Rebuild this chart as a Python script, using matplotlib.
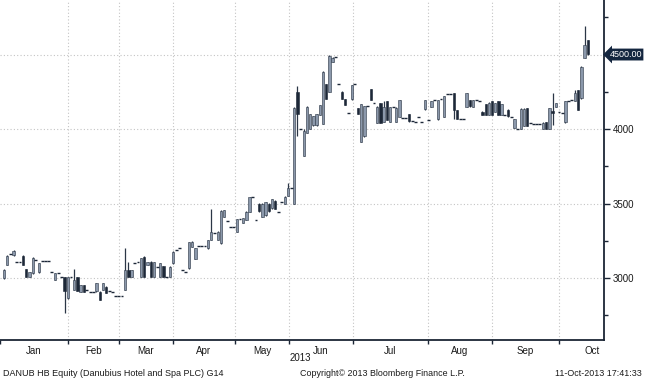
import numpy as np
import matplotlib
matplotlib.use("Agg")
import matplotlib.pyplot as plt
from matplotlib.ticker import FixedLocator, NullFormatter

# daily bars, DANUB HB, Jan - 11 Oct 2013
opens = [
    3000, 3090, 3160, 3155, 3110, 3110, 3150, 3060, 3010, 3035, 3121, 3040, 3114, 3114, 3114, 3038,
    2990, 3033, 3005, 3009, 2865, 3009, 2920, 3005, 2908, 2953, 2919, 2908, 2908, 2910, 2908, 2920,
    2942, 2915, 2908, 2879, 2879, 2879, 2920, 3054, 3009, 3103, 3110, 3009, 3143, 3087, 3110, 3010,
    3076, 3009, 3081, 3009, 3009, 3098, 3188, 3199, 3054, 3042, 3065, 3210, 3127, 3215, 3215, 3218,
    3199, 3255, 3304, 3255, 3233, 3412, 3385, 3344, 3344, 3311, 3396, 3369, 3389, 3445, 3542, 3389,
    3500, 3412, 3420, 3500, 3468, 3520, 3445, 3510, 3500, 3552, 3602, 3500, 4250, 4000, 3820, 3972,
    4000, 4025, 4025, 4094, 4034, 4302, 4250, 4450, 4485, 4300, 4250, 4199, 4105, 4199, 4300, 4139,
    3915, 3950, 4154, 4266, 4175, 4040, 4175, 4050, 4185, 4050, 4145, 4050, 4083, 4076, 4076, 4100,
    4055, 4050, 4080, 4050, 4132, 4060, 4150, 4195, 4065, 4200, 4083, 4232, 4236, 4243, 4128, 4065,
    4068, 4150, 4195, 4150, 4195, 4188, 4116, 4167, 4094, 4185, 4116, 4185, 4094, 4094, 4130, 4083,
    4007, 4003, 4003, 4020, 4139, 4040, 4036, 4032, 4032, 4000, 4045, 4000, 4120, 4150, 4111, 4105,
    4045, 4188, 4192, 4188, 4262, 4206, 4479, 4597,
]
highs = [
    3060, 3155, 3160, 3185, 3110, 3110, 3155, 3062, 3042, 3140, 3121, 3100, 3114, 3114, 3114, 3038,
    3035, 3033, 3005, 3010, 3010, 3009, 3058, 3008, 2955, 2955, 2919, 2908, 2908, 2969, 2910, 2965,
    2944, 2915, 2908, 2879, 2879, 2879, 3200, 3110, 3055, 3103, 3110, 3135, 3145, 3110, 3112, 3110,
    3076, 3100, 3083, 3009, 3078, 3180, 3188, 3199, 3054, 3042, 3245, 3246, 3200, 3215, 3215, 3218,
    3257, 3463, 3304, 3313, 3455, 3458, 3385, 3344, 3344, 3398, 3396, 3404, 3447, 3545, 3542, 3389,
    3502, 3502, 3510, 3502, 3530, 3522, 3445, 3510, 3548, 3635, 3602, 4145, 4288, 4000, 4000, 4152,
    4102, 4090, 4102, 4163, 4387, 4304, 4500, 4482, 4485, 4300, 4252, 4200, 4105, 4297, 4300, 4141,
    4167, 4156, 4154, 4268, 4175, 4152, 4177, 4185, 4187, 4150, 4145, 4145, 4197, 4076, 4076, 4102,
    4055, 4050, 4080, 4050, 4197, 4060, 4187, 4195, 4197, 4200, 4223, 4232, 4236, 4245, 4130, 4065,
    4068, 4245, 4197, 4197, 4195, 4188, 4118, 4169, 4180, 4187, 4176, 4187, 4167, 4094, 4132, 4083,
    4070, 4003, 4139, 4139, 4141, 4040, 4036, 4032, 4032, 4045, 4047, 4143, 4245, 4177, 4111, 4105,
    4190, 4188, 4192, 4260, 4264, 4420, 4693, 4599,
]
lows = [
    2995, 3085, 3160, 3150, 3110, 3110, 3088, 3005, 3008, 3030, 3121, 3036, 3114, 3114, 3114, 3038,
    2987, 3033, 3005, 2765, 2860, 3009, 2918, 2910, 2905, 2905, 2919, 2908, 2908, 2908, 2852, 2918,
    2897, 2915, 2908, 2879, 2879, 2879, 2918, 3005, 3005, 3103, 3110, 3005, 3009, 3085, 3009, 3008,
    3076, 3008, 3009, 3009, 3008, 3096, 3188, 3199, 3054, 3042, 3062, 3208, 3125, 3215, 3215, 3218,
    3197, 3253, 3304, 3253, 3230, 3410, 3385, 3344, 3344, 3308, 3396, 3367, 3387, 3443, 3542, 3389,
    3445, 3410, 3418, 3445, 3466, 3460, 3445, 3510, 3498, 3550, 3602, 3498, 3950, 4000, 3818, 3970,
    3998, 4020, 4023, 4092, 4032, 4199, 4248, 4448, 4485, 4300, 4199, 4161, 4105, 4197, 4300, 4100,
    3913, 3948, 4154, 4195, 4175, 4038, 4040, 4048, 4060, 4048, 4145, 4048, 4081, 4076, 4076, 4050,
    4055, 4050, 4080, 4050, 4130, 4060, 4148, 4195, 4063, 4200, 4081, 4232, 4236, 4065, 4065, 4065,
    4068, 4148, 4150, 4148, 4195, 4188, 4094, 4094, 4092, 4094, 4114, 4094, 4092, 4094, 4083, 4083,
    4005, 4003, 4000, 4018, 4020, 4040, 4036, 4032, 4032, 3998, 4000, 3998, 4027, 4148, 4111, 4105,
    4043, 4188, 4192, 4186, 4128, 4204, 4475, 4500,
]
closes = [
    3055, 3150, 3160, 3183, 3110, 3110, 3090, 3007, 3040, 3132, 3121, 3098, 3114, 3114, 3114, 3038,
    3033, 3033, 3005, 2910, 3008, 3009, 2987, 2912, 2953, 2908, 2919, 2908, 2908, 2968, 2855, 2964,
    2898, 2915, 2908, 2879, 2879, 2879, 3054, 3009, 3054, 3103, 3110, 3132, 3010, 3110, 3010, 3110,
    3076, 3098, 3010, 3009, 3076, 3177, 3188, 3199, 3054, 3042, 3244, 3244, 3199, 3215, 3215, 3218,
    3255, 3311, 3304, 3311, 3452, 3456, 3385, 3344, 3344, 3396, 3396, 3402, 3445, 3542, 3542, 3389,
    3447, 3500, 3508, 3448, 3528, 3462, 3445, 3510, 3546, 3604, 3602, 4139, 4100, 4000, 3990, 4150,
    4100, 4088, 4100, 4161, 4385, 4200, 4490, 4480, 4485, 4300, 4200, 4163, 4105, 4295, 4300, 4102,
    4165, 4154, 4154, 4197, 4175, 4150, 4042, 4150, 4062, 4148, 4145, 4143, 4195, 4076, 4076, 4052,
    4055, 4050, 4080, 4050, 4195, 4060, 4185, 4195, 4195, 4200, 4221, 4232, 4236, 4128, 4067, 4065,
    4068, 4243, 4152, 4195, 4195, 4188, 4096, 4096, 4178, 4096, 4174, 4096, 4165, 4094, 4085, 4083,
    4068, 4003, 4137, 4137, 4022, 4040, 4036, 4032, 4032, 4043, 4002, 4141, 4110, 4175, 4111, 4105,
    4188, 4188, 4192, 4239, 4130, 4418, 4564, 4502,
]

months = ["Jan", "Feb", "Mar", "Apr", "May", "Jun", "Jul", "Aug", "Sep", "Oct"]
# bar position where each month starts (last entry = nominal end of Oct)
month_starts = [-0.25, 21.1, 37.0, 54.0, 73.4, 90.3, 110.4, 133.9, 154.0, 175.0, 195.7]
last_price = 4500.00

UP = "#8b98ab"
DOWN = "#1d2838"
EDGE = "#2b3646"
AXIS = "#1b2535"
GRID = "#c4c4c4"

plt.rcParams["font.family"] = ["Liberation Sans", "DejaVu Sans"]

o = np.array(opens, float)
h = np.array(highs, float)
l = np.array(lows, float)
c = np.array(closes, float)
x = np.arange(1, len(o) + 1)

fig = plt.figure(figsize=(6.45, 3.8), dpi=100)
ax = fig.add_axes([0.0, 40 / 380, 604 / 645, 340 / 380])

# grid first
for m in month_starts[1:-1]:
    ax.axvline(m, color=GRID, lw=0.8, ls=(0, (1, 2)), zorder=0)
for v in [3000, 3500, 4000, 4500]:
    ax.axhline(v, color=GRID, lw=0.8, ls=(0, (1, 2)), zorder=0)

# wicks
ax.vlines(x, l, h, color=EDGE, lw=0.9, zorder=2)

up = c > o
down = c < o
flat = c == o
ax.bar(x[up], (c - o)[up], bottom=o[up], width=0.72, color=UP,
       edgecolor=EDGE, linewidth=0.4, zorder=3)
ax.bar(x[down], (o - c)[down], bottom=c[down], width=0.72, color=DOWN,
       edgecolor=DOWN, linewidth=0.4, zorder=3)
ax.hlines(c[flat], x[flat] - 0.45, x[flat] + 0.45, color=DOWN, lw=1.0, zorder=3)

ax.set_xlim(-0.25, 189.1)
ax.set_ylim(2584, 4866)

# spines
for s in ["top", "left"]:
    ax.spines[s].set_visible(False)
for s in ["bottom", "right"]:
    ax.spines[s].set_color(AXIS)
    ax.spines[s].set_linewidth(1.3)

# x axis: tick marks at month starts, labels centred in each month
ax.xaxis.set_major_locator(FixedLocator(month_starts[:-1]))
ax.xaxis.set_major_formatter(NullFormatter())
centres = [(a + b) / 2 for a, b in zip(month_starts[:-1], month_starts[1:])]
ax.xaxis.set_minor_locator(FixedLocator(centres))
ax.set_xticklabels(months, minor=True)
ax.tick_params(axis="x", which="major", direction="out", length=3, width=1, color=AXIS)
ax.tick_params(axis="x", which="minor", length=0, pad=4, labelsize=7, labelcolor="#1a1a1a")

# y axis on the right
ax.yaxis.tick_right()
ax.set_yticks([3000, 3500, 4000, 4500])
ax.set_yticklabels(["3000", "3500", "4000", ""])
ax.set_yticks([2750, 3250, 3750, 4250, 4750], minor=True)
ax.tick_params(axis="y", which="major", direction="out", length=4, width=1, color=AXIS,
               labelsize=7, labelcolor="#1a1a1a", pad=2)
ax.tick_params(axis="y", which="minor", direction="out", length=3, width=1, color=AXIS)

# last price tag
ax.text(1.009, last_price, f"{last_price:.2f}", transform=ax.get_yaxis_transform(),
        ha="left", va="center", fontsize=6.5, color="white",
        bbox=dict(boxstyle="larrow,pad=0.16", fc="#14263f", ec="none"))

fig.text(300 / 645, 1 - 358 / 380, "2013", ha="center", va="center", fontsize=7, color="#1a1a1a")
fig.text(3 / 645, 1 - 373 / 380, "DANUB HB Equity (Danubius Hotel and Spa PLC) G14",
         ha="left", va="center", fontsize=6.5, color="#1a1a1a")
fig.text(300 / 645, 1 - 373 / 380, "Copyright\u00a9 2013 Bloomberg Finance L.P.",
         ha="left", va="center", fontsize=6.4, color="#1a1a1a")
fig.text(642 / 645, 1 - 373 / 380, "11-Oct-2013 17:41:33",
         ha="right", va="center", fontsize=6.4, color="#1a1a1a")

fig.savefig("out.png", dpi=100)
